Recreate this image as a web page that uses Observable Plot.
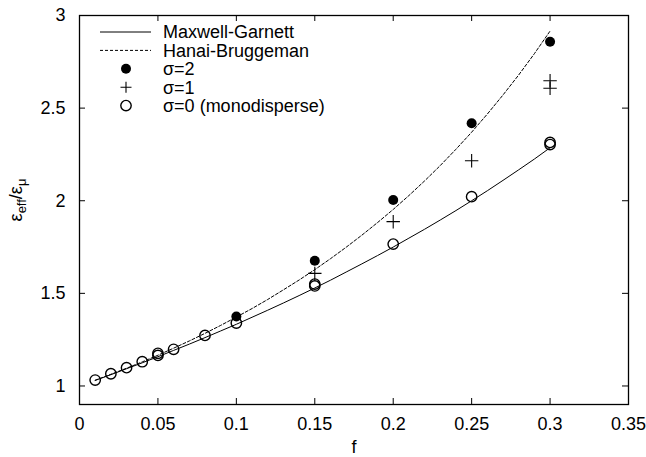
<!DOCTYPE html>
<html><head><meta charset="utf-8">
<script src="https://cdn.jsdelivr.net/npm/d3@7"></script>
<script src="https://cdn.jsdelivr.net/npm/@observablehq/plot@0.6"></script>
<style>body{margin:0;background:#fff} svg{display:block}</style>
</head><body><div id="chart"></div>
<script>
// Curves (f = volume fraction)
const fGrid = [0.01,0.02,0.03,0.04,0.05,0.06,0.07,0.08,0.09,0.10,0.11,0.12,0.13,0.14,0.15,0.16,0.17,0.18,0.19,0.20,0.21,0.22,0.23,0.24,0.25,0.26,0.27,0.28,0.29,0.30];
const maxwellGarnett = [1.030,1.061,1.093,1.125,1.158,1.192,1.226,1.261,1.297,1.333,1.371,1.409,1.448,1.488,1.529,1.571,1.615,1.659,1.704,1.750,1.798,1.846,1.896,1.947,2.000,2.054,2.110,2.167,2.225,2.286];
const hanaiBruggeman = [1.031,1.063,1.096,1.130,1.166,1.204,1.243,1.284,1.327,1.372,1.418,1.467,1.519,1.572,1.628,1.687,1.749,1.814,1.882,1.953,2.028,2.107,2.190,2.278,2.370,2.468,2.571,2.679,2.794,2.916];
// Simulation points
const fSigma2 = [0.10,0.15,0.20,0.25,0.30];
const sigma2 = [1.375,1.676,2.004,2.418,2.858];
const fSigma1 = [0.15,0.20,0.25,0.30,0.30];
const sigma1 = [1.608,1.887,2.216,2.607,2.648];
const fSigma0 = [0.01,0.02,0.03,0.04,0.05,0.05,0.06,0.08,0.10,0.15,0.15,0.20,0.25,0.30,0.30];
const sigma0 = [1.032,1.066,1.099,1.131,1.165,1.176,1.198,1.273,1.340,1.540,1.550,1.766,2.022,2.303,2.315];
// Axes
const xTicks = [0,0.05,0.10,0.15,0.20,0.25,0.30,0.35];
const yTicks = [1,1.5,2,2.5,3];
const xLabel = "f";
const legendLabels = ["Maxwell-Garnett","Hanai-Bruggeman","σ=2","σ=1","σ=0 (monodisperse)"];

const W = 646, H = 457, mL = 79, mR = 18, mT = 15, mB = 53;
const innerW = W - mL - mR, innerH = H - mT - mB, tick = 6;
const font = "'Liberation Sans', Arial, Helvetica, sans-serif";
const fmt = d => String(+d.toFixed(2));

const mg = fGrid.map((f,i)=>({f, v: maxwellGarnett[i]}));
const hb = fGrid.map((f,i)=>({f, v: hanaiBruggeman[i]}));
const s2 = fSigma2.map((f,i)=>({f, v: sigma2[i]}));
const s1 = fSigma1.map((f,i)=>({f, v: sigma1[i]}));
const s0 = fSigma0.map((f,i)=>({f, v: sigma0[i]}));

const chart = Plot.plot({
  width: W, height: H,
  marginLeft: mL, marginRight: mR, marginTop: mT, marginBottom: mB,
  style: {fontFamily: font, fontSize: "18px", color: "black", background: "white"},
  x: {domain: [0, 0.35], ticks: xTicks, tickSize: 0, tickPadding: 13, tickFormat: fmt, label: null},
  y: {domain: [0.9, 3], ticks: yTicks, tickSize: 0, tickPadding: 14, tickFormat: fmt, label: null},
  marks: [
    Plot.ruleX(xTicks, {x: d=>d, insetTop: innerH - tick, stroke: "black"}),
    Plot.ruleX(xTicks, {x: d=>d, insetBottom: innerH - tick, stroke: "black"}),
    Plot.ruleY(yTicks, {y: d=>d, insetRight: innerW - tick, stroke: "black"}),
    Plot.ruleY(yTicks, {y: d=>d, insetLeft: innerW - tick, stroke: "black"}),
    Plot.line(mg, {x: "f", y: "v", stroke: "black", strokeWidth: 1}),
    Plot.line(hb, {x: "f", y: "v", stroke: "black", strokeWidth: 1, strokeDasharray: "3,2"}),
    Plot.dot(s0, {x: "f", y: "v", r: 5.2, stroke: "black", strokeWidth: 1.4, fill: "none"}),
    Plot.dot(s1, {x: "f", y: "v", symbol: "plus", r: 4.4, stroke: "black", strokeWidth: 1.1}),
    Plot.dot(s2, {x: "f", y: "v", r: 5, fill: "black", stroke: "none"}),
    Plot.frame({stroke: "black", strokeWidth: 1.3}),
    Plot.text([xLabel], {text: d=>d, frameAnchor: "bottom", dy: 48, fontSize: 18})
  ]
});
document.getElementById("chart").appendChild(chart);

const svg = d3.select(chart);
// Y axis label with subscripts
const yl = svg.append("text")
  .attr("transform", "translate(22,200) rotate(-90)")
  .attr("text-anchor", "middle")
  .attr("font-family", font).attr("font-size", 18).attr("fill", "black");
yl.append("tspan").text("ε");
yl.append("tspan").attr("font-size", 13).attr("dy", 4).text("eff");
yl.append("tspan").attr("dy", -4).text("/ε");
yl.append("tspan").attr("font-size", 13).attr("dy", 4).text("μ");

// Legend
const lg = svg.append("g").attr("font-family", font).attr("font-size", 18).attr("text-anchor", "start");
const y0 = 32, step = 18.4, lx1 = 100, lx2 = 151, sx = 126, tx = 163;
legendLabels.forEach((lab, i) => {
  const y = y0 + i*step;
  lg.append("text").attr("x", tx).attr("y", y).attr("dy", "0.35em").attr("text-anchor","start").attr("fill","black").text(lab);
  if (i === 0) lg.append("line").attr("x1", lx1).attr("x2", lx2).attr("y1", y).attr("y2", y).attr("stroke","black");
  if (i === 1) lg.append("line").attr("x1", lx1).attr("x2", lx2).attr("y1", y).attr("y2", y).attr("stroke","black").attr("stroke-dasharray","3,2");
  if (i === 2) lg.append("circle").attr("cx", sx).attr("cy", y).attr("r", 5).attr("fill","black");
  if (i === 3) lg.append("path").attr("d", `M${sx-5.5},${y}H${sx+5.5}M${sx},${y-5.5}V${y+5.5}`).attr("stroke","black").attr("stroke-width",1.1);
  if (i === 4) lg.append("circle").attr("cx", sx).attr("cy", y).attr("r", 5.2).attr("fill","none").attr("stroke","black").attr("stroke-width",1.4);
});
</script>
</body></html>
